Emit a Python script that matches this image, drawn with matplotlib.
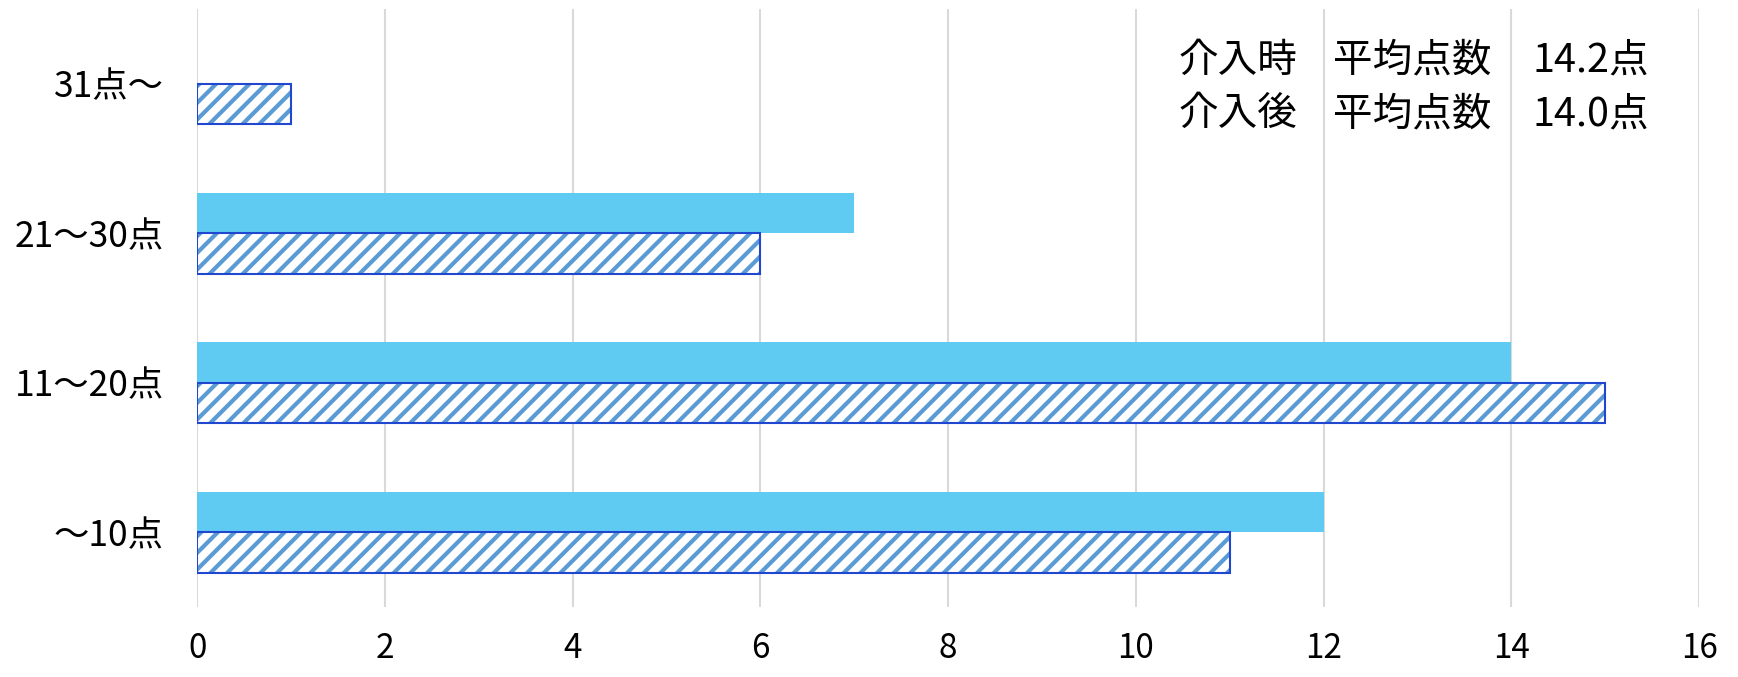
import matplotlib.pyplot as plt
import numpy as np

plt.rcParams['font.family'] = ['Noto Sans CJK JP', 'DejaVu Sans']
plt.rcParams['hatch.linewidth'] = 3.0

# データ
categories = ['〜10点', '11〜20点', '21〜30点', '31点〜']
solid_values = [12, 14, 7, 0]
hatched_values = [11, 15, 6, 1]
summary_labels = ['介入時', '介入後']
summary_means = ['14.2点', '14.0点']

fig = plt.figure(figsize=(17.38, 6.77), dpi=100)
ax = fig.add_axes([0.1134, 0.1034, 0.8642, 0.8836])

y = np.arange(len(categories))
h = 0.27

ax.barh(y + h / 2, solid_values, height=h, color='#5FCBF3', zorder=2)
# 斜線の棒（塗り＋枠線を分けて描く）
ax.barh(y - h / 2, hatched_values, height=h, color='white', edgecolor='#5B9BD5',
        hatch='//', linewidth=0, zorder=2)
ax.barh(y - h / 2, hatched_values, height=h, fill=False, edgecolor='#1F47D0',
        linewidth=1.5, zorder=3)

ax.set_xlim(0, 16)
ax.set_ylim(-0.5, 3.5)
ax.set_xticks(range(0, 17, 2))
ax.set_yticks(y)
ax.set_yticklabels(categories)
ax.tick_params(axis='both', length=0, labelsize=24)
ax.tick_params(axis='y', pad=24, labelsize=25.5)
ax.tick_params(axis='x', pad=17)
ax.grid(axis='x', color='#D9D9D9', linewidth=1.5, zorder=0)
for s in ax.spines.values():
    s.set_visible(False)

# 平均点数
tr = ax.get_xaxis_transform()
for i, (lab, m) in enumerate(zip(summary_labels, summary_means)):
    yy = 0.913 - i * 0.089
    ax.text(10.45, yy, lab, transform=tr, fontsize=28.5, va='center', ha='left')
    ax.text(12.1, yy, '平均点数', transform=tr, fontsize=28.5, va='center', ha='left')
    ax.text(14.23, yy, m, transform=tr, fontsize=28.5, va='center', ha='left')

fig.savefig('out.png', dpi=100)
